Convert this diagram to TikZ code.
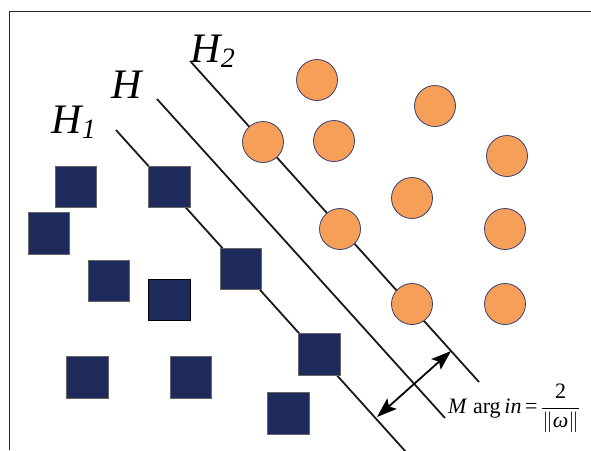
\documentclass[tikz,border=0pt]{standalone}
\usepackage{fontspec}
\setmainfont{Liberation Serif}
\usetikzlibrary{arrows.meta}
\definecolor{navy}{HTML}{1F2A5C}
\definecolor{orng}{HTML}{F59F58}
\definecolor{cedge}{HTML}{3A3F73}
\begin{document}
\begin{tikzpicture}[x=1pt,y=-1pt,
  pt/.style={circle,draw=cedge,line width=0.8pt,fill=orng,minimum size=41pt,inner sep=0pt},
  sq/.style={rectangle,draw=black!60,line width=0.7pt,fill=navy,minimum size=41.5pt,inner sep=0pt},
  hyp/.style={line width=1.8pt,black!90},
  tip/.style={Stealth[length=20pt,width=14pt,inset=4pt]},
  lab/.style={font=\fontsize{42}{42}\selectfont\itshape,inner sep=0pt,anchor=base west},
  sub/.style={font=\fontsize{28}{28}\selectfont\itshape,inner sep=0pt,anchor=base west}]
\useasboundingbox (0,0) rectangle (591,450);
\draw[line width=1pt,black!85] (9,450) -- (9,11) -- (591,11);
% hyperplane end points
\coordinate (h2a) at (191,62);  \coordinate (h2b) at (479,382);
\coordinate (ha)  at (157,99);  \coordinate (hb)  at (445,418);
\coordinate (h1a) at (116,130); \coordinate (h1b) at (406,452);
\draw[hyp] (h2a) -- (h2b);
\draw[hyp] (ha) -- (hb);
\draw[hyp] (h1a) -- (h1b);
% margin arrow
\coordinate (ma) at (377,417); \coordinate (mb) at (451,351);
\draw[line width=1.8pt,{Stealth[length=20pt,width=14pt,inset=4pt]}-{Stealth[length=20pt,width=14pt,inset=4pt]}] (ma) -- (mb);
% circles
\node[pt] (c1) at (317,80) {};
\node[pt] (c2) at (435,106) {};
\node[pt] (c3) at (263,142) {};
\node[pt] (c4) at (334,141) {};
\node[pt] (c5) at (507,156) {};
\node[pt] (c6) at (412,198) {};
\node[pt] (c7) at (340,229) {};
\node[pt] (c8) at (505,229) {};
\node[pt] (c9) at (412,304) {};
\node[pt] (c10) at (505,304) {};
% squares
\node[sq] (s1) at (76,187) {};
\node[sq] (s2) at (169.5,187) {};
\node[sq] (s3) at (49,233.5) {};
\node[sq] (s4) at (109,281) {};
\node[sq] (s5) at (241,269) {};
\node[sq,draw=black,line width=1.2pt] (s6) at (169.5,300) {};
\node[sq] (s7) at (319.5,354.5) {};
\node[sq] (s8) at (87.5,377.5) {};
\node[sq] (s9) at (191,377.5) {};
\node[sq] (s10) at (288.5,413.5) {};
% labels
\node[lab] (l1) at (51,133) {H};
\node[sub] (l1s) at (l1.base east) [xshift=0pt,yshift=-5pt] {1};
\node[lab] (l0) at (111,98) {H};
\node[lab] (l2) at (190,62) {H};
\node[sub] (l2s) at (l2.base east) [xshift=0pt,yshift=-5pt] {2};
\node[font=\fontsize{22}{22}\selectfont,inner sep=0pt,anchor=base west] (mg) at (448,413)
  {\textit{M} arg\,\textit{in}\,=\,$\displaystyle\frac{\mbox{2}}{\|\mbox{\itshape ω}\|}$};
\end{tikzpicture}
\end{document}
